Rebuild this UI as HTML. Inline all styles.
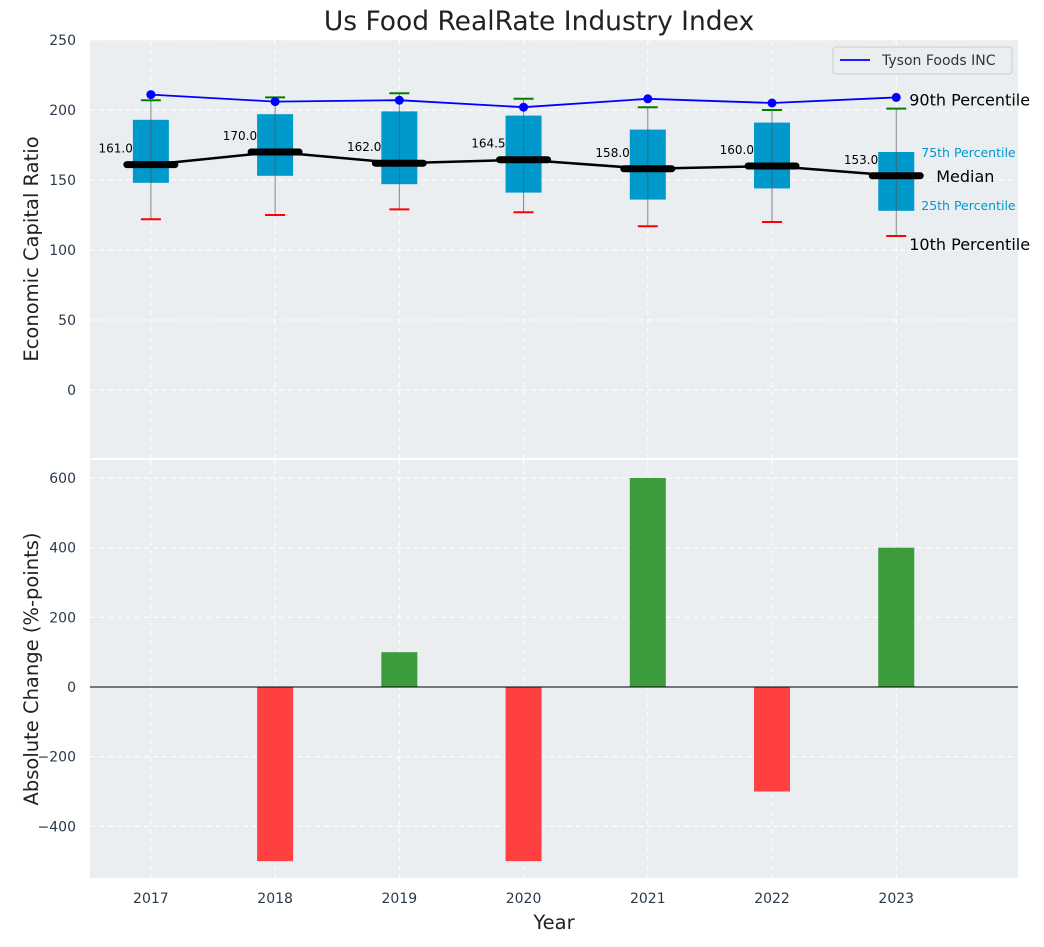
<!DOCTYPE html>
<html><head><meta charset="utf-8">
<style>
body{margin:0;background:#fff;font-family:"Liberation Sans","DejaVu Sans",sans-serif;}
svg text{font-family:"DejaVu Sans","Liberation Sans",sans-serif;}
</style></head>
<body>
<svg id="chart" width="1044" height="942" xmlns="http://www.w3.org/2000/svg"></svg>
<script>
const years=[2017,2018,2019,2020,2021,2022,2023];
const p10=[122,125,129,127,117,120,110];
const q1=[148,153,147,141,136,144,128];
const med=[161,170,162,164.5,158,160,153];
const q3=[193,197,199,196,186,191,170];
const p90=[207,209,212,208,202,200,201];
const tyson=[211,206,207,202,208,205,209];
const change=[0,-500,100,-500,600,-300,400];
const topTicks=[0,50,100,150,200,250];
const botTicks=[-400,-200,0,200,400,600];

const NS="http://www.w3.org/2000/svg";
const svg=document.getElementById('chart');
function el(tag,attrs,parent){const e=document.createElementNS(NS,tag);for(const k in attrs)e.setAttribute(k,attrs[k]);(parent||svg).appendChild(e);return e;}
const L=90,R=1018;
const x=v=>L+(v-2016.51)/(2023.98-2016.51)*(R-L);
const yT=v=>390-v*1.4;
const yB=v=>687-v*(209/600);

let bg=el('rect',{x:L,y:40,width:R-L,height:418,fill:'#eaeef0'});

let bg2=el('rect',{x:L,y:460,width:R-L,height:418,fill:'#eaeef0'});


let t=el('text',{x:539,y:30,'font-size':26.5,'text-anchor':'middle',fill:'#222'});t.textContent='Us Food RealRate Industry Index';


topTicks.forEach(v=>{
 el('line',{x1:L,x2:R,y1:yT(v),y2:yT(v),stroke:'#fff','stroke-dasharray':'5,4','stroke-width':1});
 let tx=el('text',{x:76,y:yT(v)+5,'font-size':14,'text-anchor':'end',fill:'#2b3a4a'});tx.textContent=v;
 
});
botTicks.forEach(v=>{
 el('line',{x1:L,x2:R,y1:yB(v),y2:yB(v),stroke:'#fff','stroke-dasharray':'5,4','stroke-width':1});
 let tx=el('text',{x:76,y:yB(v)+5,'font-size':14,'text-anchor':'end',fill:'#2b3a4a'});tx.textContent=(v<0?'\u2212'+(-v):v);
 
});
years.forEach(yr=>{
 el('line',{x1:x(yr),x2:x(yr),y1:40,y2:458,stroke:'#fff','stroke-dasharray':'5,4'});
 el('line',{x1:x(yr),x2:x(yr),y1:460,y2:878,stroke:'#fff','stroke-dasharray':'5,4'});
 let tx=el('text',{x:x(yr),y:903,'font-size':14,'text-anchor':'middle',fill:'#2b3a4a'});tx.textContent=yr;
 
});

years.forEach((yr,i)=>{
 const cx=x(yr);
 let b=el('rect',{x:cx-18,y:yT(q3[i]),width:36,height:yT(q1[i])-yT(q3[i]),fill:'#0099cc'});
 
 el('line',{x1:cx,x2:cx,y1:yT(p90[i]),y2:yT(p10[i]),stroke:'#555','stroke-width':1,opacity:0.7});
 el('line',{x1:cx-10,x2:cx+10,y1:yT(p90[i]),y2:yT(p90[i]),stroke:'green','stroke-width':2});
 el('line',{x1:cx-10,x2:cx+10,y1:yT(p10[i]),y2:yT(p10[i]),stroke:'red','stroke-width':2});
});
el('polyline',{points:years.map((yr,i)=>x(yr)+','+yT(med[i])).join(' '),fill:'none',stroke:'#000','stroke-width':2.5});
years.forEach((yr,i)=>{
 const cx=x(yr);
 let m=el('line',{x1:cx-24,x2:cx+24,y1:yT(med[i]),y2:yT(med[i]),stroke:'#000','stroke-width':7,'stroke-linecap':'round'});
 
 let lb=el('text',{x:cx-18,y:yT(med[i])-12,'font-size':12,'text-anchor':'end',fill:'#000'});lb.textContent=med[i].toFixed(1);
 
});
let tl=el('polyline',{points:years.map((yr,i)=>x(yr)+','+yT(tyson[i])).join(' '),fill:'none',stroke:'blue','stroke-width':1.8});

years.forEach((yr,i)=>{let c=el('circle',{cx:x(yr),cy:yT(tyson[i]),r:4.5,fill:'blue'});
 });

const lx=x(2023), li=6;
[['90th Percentile',lx+13,yT(tyson[li])+8,16,'#000'],['75th Percentile',lx+25,yT(q3[li])+5,12.5,'#0099cc'],
 ['Median',lx+40,yT(med[li])+6,16,'#000'],['25th Percentile',lx+25,yT(q1[li])-1,12.5,'#0099cc'],
 ['10th Percentile',lx+13,yT(p10[li])+14,16,'#000']].forEach(a=>{
 let tx=el('text',{x:a[1],y:a[2],'font-size':a[3],fill:a[4]});tx.textContent=a[0];
 
});

let lg=el('g',{});
el('rect',{x:833,y:47,width:179,height:27,rx:3,fill:'#eaeef0',stroke:'#ccc'},lg);
el('line',{x1:840,x2:870,y1:60,y2:60,stroke:'blue','stroke-width':1.8},lg);
let lt=el('text',{x:882,y:65,'font-size':14,fill:'#333'},lg);lt.textContent='Tyson Foods INC';

el('line',{x1:L,x2:R,y1:459,y2:459,stroke:'#fff','stroke-width':2});

years.forEach((yr,i)=>{
 const v=change[i]; if(v===0) return;
 let b=el('rect',{x:x(yr)-18,y:Math.min(yB(v),yB(0)),width:36,height:Math.abs(yB(v)-yB(0)),fill:v>0?'#3c9c3c':'#ff4040'});
 
});
el('line',{x1:L,x2:R,y1:yB(0),y2:yB(0),stroke:'#000','stroke-width':1});

let a1=el('text',{x:0,y:0,'font-size':19.5,'text-anchor':'middle',fill:'#222',transform:'translate(38,249) rotate(-90)'});a1.textContent='Economic Capital Ratio';

let a2=el('text',{x:0,y:0,'font-size':19.5,'text-anchor':'middle',fill:'#222',transform:'translate(38,669) rotate(-90)'});a2.textContent='Absolute Change (%-points)';

let a3=el('text',{x:554,y:929,'font-size':19.5,'text-anchor':'middle',fill:'#222'});a3.textContent='Year';

</script>
</body></html>
